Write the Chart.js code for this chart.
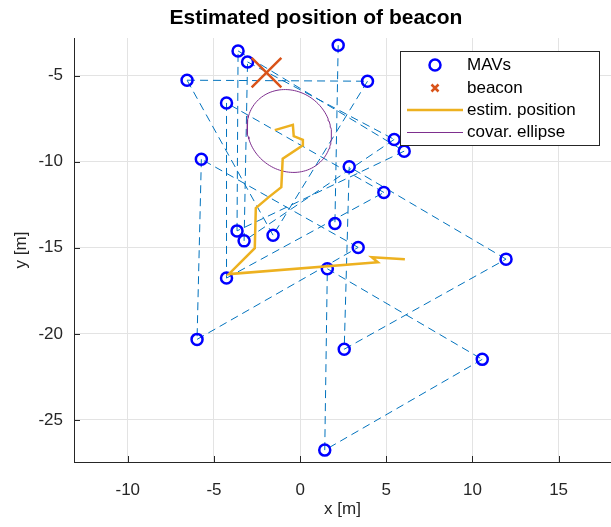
<!DOCTYPE html>
<html>
<head>
<meta charset="utf-8">
<script src="https://cdn.jsdelivr.net/npm/chart.js@4.4.1/dist/chart.umd.min.js"></script>
<style>
html, body { margin: 0; padding: 0; background: #fff; }
</style>
</head>
<body>
<canvas id="plot" width="611" height="527"></canvas>
<script>
// MAV positions
var mavX = [-3.60, -3.05, 2.21, -6.56, 3.91, -4.27, 5.46, 6.04, -5.73, 2.85, 4.86, 2.02,
            -3.66, -1.57, -3.25, 3.37, -4.27, 1.58, 11.95, -5.98, 2.56, 10.57, 1.43];
var mavY = [-3.57, -4.21, -3.24, -5.27, -5.33, -6.59, -8.71, -9.39, -9.86, -10.30, -11.79, -13.59,
            -14.02, -14.27, -14.60, -14.98, -16.76, -16.22, -15.66, -20.32, -20.89, -21.48, -26.75];

// dashed links between MAVs (1-based indices)
var linkFrom = [4, 5, 14, 18, 22, 23, 9, 20, 16, 6, 17, 11, 10, 21, 19, 2, 7, 15, 1, 8, 13, 3];
var linkTo   = [5, 14, 4, 22, 23, 18, 20, 16, 9, 17, 11, 6, 21, 19, 10, 7, 15, 2, 8, 13, 1, 12];

var beaconX = [-1.95];
var beaconY = [-4.83];

// estimated position track
var estX = [6.08, 4.16, 4.51, -4.14, -2.63, -2.57, -1.82, -1.09, -1.01, 0.16, 0.16, -0.37, -0.42, -1.47];
var estY = [-15.66, -15.55, -15.84, -16.53, -15.02, -12.70, -12.06, -11.48, -9.83, -9.05, -8.73, -8.52, -7.86, -8.17];

// covariance ellipse: centre, semi axes, angle (deg)
var ellipseCenter = [-0.63, -8.22];
var ellipseAxes = [2.55, 2.30];
var ellipseAngle = -40;

var xTicks = [-10, -5, 0, 5, 10, 15];
var yTicks = [-25, -20, -15, -10, -5];
var xRange = [-13.12, 18.04];
var yRange = [-27.44, -2.82];

var titleText = 'Estimated position of beacon';
var FONT = "'Liberation Sans', Arial, Helvetica, sans-serif";
var AXIS_COL = '#262626';

function toPoints(xs, ys) {
	var pts = [];
	for (var i = 0; i < xs.length; i++) {
		pts.push({x: xs[i], y: ys[i]});
	};
	return pts;
};

function ellipsePoints() {
	var pts = [];
	var t = ellipseAngle * Math.PI / 180;
	for (var i = 0; i <= 120; i++) {
		var a = i / 120 * 2 * Math.PI;
		var u = ellipseAxes[0] * Math.cos(a), v = ellipseAxes[1] * Math.sin(a);
		pts.push({x: ellipseCenter[0] + u * Math.cos(t) - v * Math.sin(t),
		          y: ellipseCenter[1] + u * Math.sin(t) + v * Math.cos(t)});
	};
	return pts;
};

var datasets = [
	{label: 'beacon', data: toPoints(beaconX, beaconY), showLine: false,
	 pointStyle: 'crossRot', pointRadius: 21, borderColor: '#D95319', borderWidth: 2.5, order: 0},
	{label: 'estim. position', data: toPoints(estX, estY), showLine: true,
	 borderColor: '#EDB120', borderWidth: 2.5, pointRadius: 0, order: 1},
	{label: 'covar. ellipse', data: ellipsePoints(), showLine: true,
	 borderColor: '#7E2F8E', borderWidth: 1, pointRadius: 0, order: 2},
	{label: 'MAVs', data: toPoints(mavX, mavY), showLine: false,
	 pointStyle: 'circle', pointRadius: 5.5, borderColor: '#0000FF', borderWidth: 2.5,
	 backgroundColor: 'rgba(0,0,0,0)', order: 3}
];

for (var k = 0; k < linkFrom.length; k++) {
	var a = linkFrom[k] - 1, b = linkTo[k] - 1;
	datasets.push({label: 'link' + k, data: [{x: mavX[a], y: mavY[a]}, {x: mavX[b], y: mavY[b]}],
		showLine: true, borderColor: '#0072BD', borderWidth: 1, borderDash: [8, 5],
		pointRadius: 0, order: 4});
};

// title + legend inside the axes, MATLAB style
var legendBox = {
	id: 'legendBox',
	afterDraw: function(chart) {
		var ctx = chart.ctx;
		ctx.save();
		ctx.fillStyle = '#000';
		ctx.font = 'bold 21px ' + FONT;
		ctx.textAlign = 'center';
		ctx.textBaseline = 'middle';
		ctx.fillText(titleText, 316, 18);

		var x0 = 400, y0 = 51, w = 199, h = 94;
		ctx.fillStyle = '#fff';
		ctx.fillRect(x0, y0, w, h);
		ctx.strokeStyle = AXIS_COL;
		ctx.lineWidth = 1;
		ctx.strokeRect(x0 + 0.5, y0 + 0.5, w, h);
		var rows = [65, 88, 110, 132];
		var names = ['MAVs', 'beacon', 'estim. position', 'covar. ellipse'];
		// MAVs
		ctx.strokeStyle = '#0000FF'; ctx.lineWidth = 2.5;
		ctx.beginPath(); ctx.arc(435, rows[0], 5.5, 0, 2 * Math.PI); ctx.stroke();
		// beacon
		ctx.strokeStyle = '#D95319'; ctx.lineWidth = 2.5;
		ctx.beginPath();
		ctx.moveTo(431.5, rows[1] - 3.5); ctx.lineTo(438.5, rows[1] + 3.5);
		ctx.moveTo(431.5, rows[1] + 3.5); ctx.lineTo(438.5, rows[1] - 3.5);
		ctx.stroke();
		// estim. position
		ctx.strokeStyle = '#EDB120'; ctx.lineWidth = 2.5;
		ctx.beginPath(); ctx.moveTo(407, rows[2]); ctx.lineTo(463, rows[2]); ctx.stroke();
		// ellipse
		ctx.strokeStyle = '#7E2F8E'; ctx.lineWidth = 1;
		ctx.beginPath(); ctx.moveTo(407, rows[3] + 0.5); ctx.lineTo(463, rows[3] + 0.5); ctx.stroke();
		ctx.fillStyle = '#000';
		ctx.font = '17px ' + FONT;
		ctx.textAlign = 'left';
		ctx.textBaseline = 'middle';
		for (var i = 0; i < names.length; i++) {
			ctx.fillText(names[i], 467, rows[i]);
		};
		ctx.restore();
	}
};

// inward tick marks
var innerTicks = {
	id: 'innerTicks',
	afterDraw: function(chart) {
		var ctx = chart.ctx, xs = chart.scales.x, ys = chart.scales.y, area = chart.chartArea;
		ctx.save();
		ctx.strokeStyle = AXIS_COL; ctx.lineWidth = 1;
		ctx.beginPath();
		for (var i = 0; i < xTicks.length; i++) {
			var px = Math.round(xs.getPixelForValue(xTicks[i])) + 0.5;
			ctx.moveTo(px, area.bottom); ctx.lineTo(px, area.bottom - 6);
		};
		for (var j = 0; j < yTicks.length; j++) {
			var py = Math.round(ys.getPixelForValue(yTicks[j])) + 0.5;
			ctx.moveTo(area.left, py); ctx.lineTo(area.left + 6, py);
		};
		ctx.stroke();
		ctx.restore();
	}
};

var ctx = document.getElementById('plot').getContext('2d');
var chart = new Chart(ctx, {
	type: 'scatter',
	data: {datasets: datasets},
	plugins: [legendBox, innerTicks],
	options: {
		responsive: false,
		animation: false,
		devicePixelRatio: 1,
		layout: {autoPadding: false, padding: {top: 38, left: 0, right: 0, bottom: 0}},
		plugins: {
			legend: {display: false},
			tooltip: {enabled: false},
			title: {display: false}
		},
		scales: {
			x: {
				type: 'linear', min: xRange[0], max: xRange[1],
				afterBuildTicks: function(s) { s.ticks = xTicks.map(function(v) { return {value: v}; }); },
				afterFit: function(s) { s.height = 65; s.paddingLeft = 0; s.paddingRight = 0; },
				grid: {color: '#e3e3e3', drawTicks: false},
				border: {display: true, color: AXIS_COL, width: 1},
				ticks: {color: AXIS_COL, padding: 18, font: {family: FONT, size: 17}, maxRotation: 0},
				title: {display: true, text: 'x [m]', color: AXIS_COL,
					font: {family: FONT, size: 17, lineHeight: 1.2}, padding: {top: 0, bottom: 7}}
			},
			y: {
				type: 'linear', min: yRange[0], max: yRange[1],
				afterBuildTicks: function(s) { s.ticks = yTicks.map(function(v) { return {value: v}; }); },
				afterFit: function(s) { s.width = 74; s.paddingTop = 0; s.paddingBottom = 0; },
				grid: {color: '#e3e3e3', drawTicks: false},
				border: {display: true, color: AXIS_COL, width: 1},
				ticks: {color: AXIS_COL, padding: 11, font: {family: FONT, size: 17}},
				title: {display: true, text: 'y [m]', color: AXIS_COL,
					font: {family: FONT, size: 17, lineHeight: 1.2}, padding: {top: 11, bottom: 0}}
			}
		}
	}
});
</script>
</body>
</html>
